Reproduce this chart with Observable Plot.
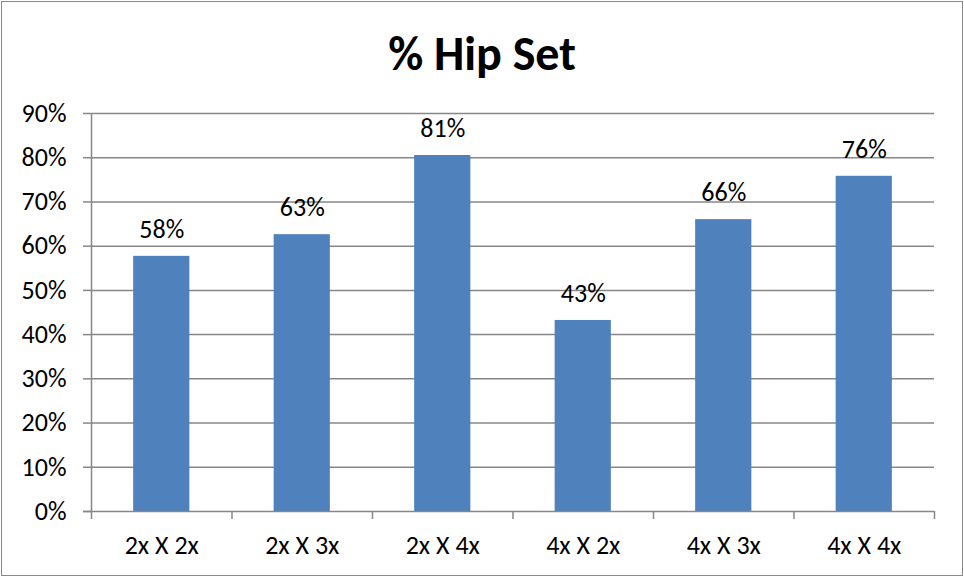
<!DOCTYPE html>
<html>
<head>
<meta charset="utf-8">
<script src="https://cdn.jsdelivr.net/npm/d3@7"></script>
<script src="https://cdn.jsdelivr.net/npm/@observablehq/plot@0.6"></script>
<style>
  html, body { margin: 0; padding: 0; background: #fff; }
  #chart { width: 964px; height: 577px; position: relative; font-family: Carlito, Calibri, Lato, sans-serif; }
  #chart svg { display: block; }
  #frame { position: absolute; left: 1px; top: 1px; width: 960px; height: 573px; border: 1.5px solid #898989; pointer-events: none; }
  #title { position: absolute; left: 0; top: 26px; width: 964px; text-align: center; font-size: 48px; font-weight: bold; line-height: 56px; color: #000; }
</style>
</head>
<body>
<div id="chart"><div id="frame"></div><div id="title"></div></div>
<script>
const title = "% Hip Set";
const categories = ["2x X 2x", "2x X 3x", "2x X 4x", "4x X 2x", "4x X 3x", "4x X 4x"];
const values = [0.577, 0.626, 0.805, 0.432, 0.660, 0.758];
const valueLabels = ["58%", "63%", "81%", "43%", "66%", "76%"];
const yTicks = [0, 0.1, 0.2, 0.3, 0.4, 0.5, 0.6, 0.7, 0.8, 0.9];

document.getElementById("title").textContent = title;
const data = categories.map((c, i) => ({cat: c, i, value: values[i], label: valueLabels[i]}));
const boundaries = d3.range(categories.length + 1);
const centers = categories.map((c, i) => i + 0.5);
const font = "Carlito, Calibri, Lato, sans-serif";

const chart = Plot.plot({
  width: 964,
  height: 577,
  marginLeft: 91,
  marginRight: 30,
  marginTop: 113,
  marginBottom: 66,
  style: {fontFamily: font, fontSize: "26px", color: "#000", background: "#fff"},
  x: {type: "linear", domain: [0, categories.length], axis: null},
  y: {domain: [0, 0.9], axis: null},
  marks: [
    Plot.ruleY(yTicks.slice(1), {stroke: "#878787", strokeWidth: 1.5}),
    Plot.rectY(data, {x1: d => d.i + 0.3, x2: d => d.i + 0.7, y1: 0, y2: "value", fill: "#4F81BD"}),
    Plot.ruleY([0], {stroke: "#878787", strokeWidth: 1.5, insetLeft: -8}),
    Plot.ruleX([0], {stroke: "#878787", strokeWidth: 1.5}),
    Plot.axisY({ticks: yTicks, tickFormat: d3.format(".0%"), tickSize: 8, tickPadding: 17, stroke: "#878787", strokeWidth: 1.5, label: null, fontSize: 26, fill: "#000"}),
    Plot.axisX({ticks: boundaries, tickFormat: () => "", tickSize: 8, stroke: "#878787", strokeWidth: 1.5, label: null}),
    Plot.axisX({ticks: centers, tickFormat: d => categories[Math.floor(d)], tickSize: 0, tickPadding: 24, label: null, fontSize: 26, fill: "#000"}),
    Plot.text(data, {x: d => d.i + 0.5, y: "value", text: "label", dy: -27, fontSize: 26, fill: "#000"})
  ]
});
document.getElementById("chart").prepend(chart);
</script>
</body>
</html>
